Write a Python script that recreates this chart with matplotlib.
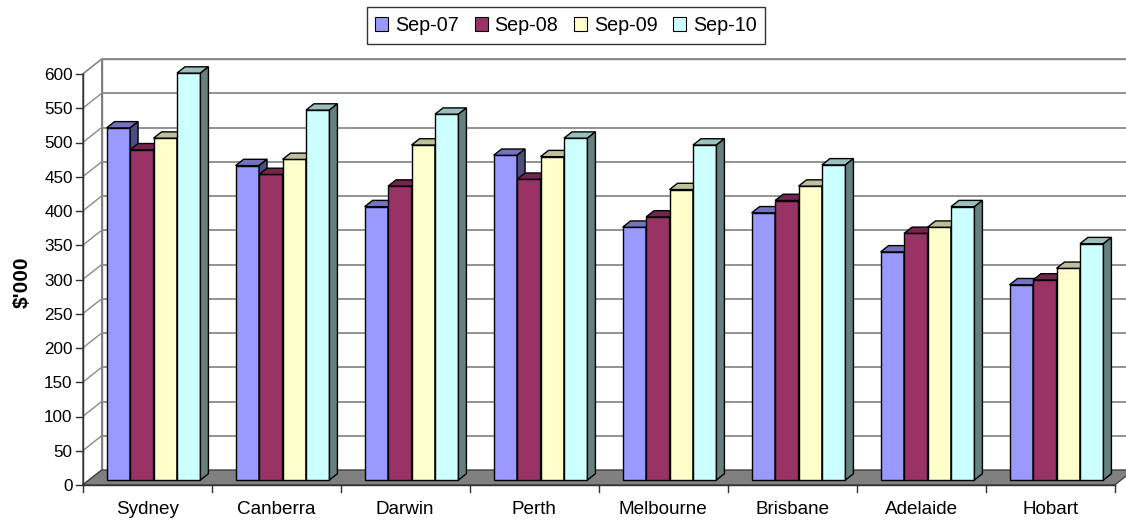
import matplotlib
matplotlib.use("Agg")
import matplotlib.pyplot as plt
from matplotlib.patches import Polygon, Patch
from matplotlib.colors import to_rgb

plt.rcParams["font.family"] = ["Liberation Sans", "DejaVu Sans"]

# ---- data -------------------------------------------------------------
cities = ["Sydney", "Canberra", "Darwin", "Perth", "Melbourne",
          "Brisbane", "Adelaide", "Hobart"]
series_names = ["Sep-07", "Sep-08", "Sep-09", "Sep-10"]
sep07 = [514, 459, 399, 474, 369, 390, 333, 285]
sep08 = [482, 446, 429, 439, 384, 408, 360, 292]
sep09 = [499, 468, 489, 472, 424, 429, 369, 309]
sep10 = [594, 540, 534, 499, 489, 460, 399, 345]
series_values = [sep07, sep08, sep09, sep10]
y_ticks = list(range(0, 601, 50))

# ---- style ------------------------------------------------------------
colors = ["#9999FF", "#993366", "#FFFFCC", "#CCFFFF"]
grid_color = "#8a8a8a"
wall_edge = "#808080"
floor_color = "#808080"


def shade(c, k):
    r, g, b = to_rgb(c)
    return (r * k, g * k, b * k)


fig = plt.figure(figsize=(11.26, 5.21), dpi=100)
W, H = 1126, 521
x_left_px, x_right_px = 82.7, 82.7 + 129 * 8
y0_px, y600_px = 485, 74
ax = fig.add_axes([x_left_px / W, (H - y0_px) / H,
                   (x_right_px - x_left_px) / W, (y0_px - y600_px) / H])
n_cat = len(cities)
ymax = y_ticks[-1]
ax.set_xlim(0, n_cat)
ax.set_ylim(0, ymax)
ax.axis("off")

px_x = (x_right_px - x_left_px) / n_cat      # pixels per category
px_y = (y0_px - y600_px) / ymax              # pixels per value unit
DX = 19 / px_x                               # depth offset of the back wall
DY = 15 / px_y

# left side wall and back wall
ax.add_patch(Polygon([(0, 0), (DX, DY), (DX, ymax + DY), (0, ymax)],
                     closed=True, facecolor="white", edgecolor=wall_edge,
                     lw=1.0, zorder=1, clip_on=False))
ax.add_patch(Polygon([(DX, DY), (n_cat + DX, DY), (n_cat + DX, ymax + DY),
                      (DX, ymax + DY)], closed=True, facecolor="white",
                     edgecolor=wall_edge, lw=1.0, zorder=1, clip_on=False))

# gridlines on back and side walls
for v in y_ticks[1:]:
    ax.plot([DX, n_cat + DX], [v + DY, v + DY], color=grid_color, lw=1.3,
            zorder=1.5, clip_on=False, solid_capstyle="butt")
    ax.plot([0, DX], [v, v + DY], color=grid_color, lw=1.0,
            zorder=1.5, clip_on=False)

# floor
ax.add_patch(Polygon([(0, 0), (n_cat, 0), (n_cat + DX, DY), (DX, DY)],
                     closed=True, facecolor=floor_color, edgecolor="#3a3a3a",
                     lw=0.9, zorder=2, clip_on=False))

# axes lines and ticks
tick_x = 7 / px_x
tick_y = 7 / px_y
ax.plot([0, 0], [0, ymax], color="#303030", lw=1.0, zorder=2.5, clip_on=False)
ax.plot([0, n_cat], [0, 0], color="#303030", lw=1.0, zorder=2.5, clip_on=False)
for v in y_ticks:
    ax.plot([-tick_x, 0], [v, v], color="#303030", lw=1.0, clip_on=False)
    ax.text(-10 / px_x, v, str(v), ha="right", va="center_baseline",
            fontsize=12.3, color="black")
for k in range(n_cat + 1):
    ax.plot([k, k], [0, -tick_y], color="#303030", lw=1.0, clip_on=False)
for k, name in enumerate(cities):
    ax.text(k + 0.5, -(514 - y0_px) / px_y, name, ha="center", va="baseline",
            fontsize=13.6, color="black")

# 3-D clustered bars
f = 1 / 3            # depth position of the bar front faces
d = 0.42             # bar depth as a fraction of the wall depth
w = 1 / 5.5          # bar width (gap width 150 %)
n_ser = len(series_values)
bx0 = f * DX
by0 = f * DY
ddx, ddy = d * DX, d * DY
for k in range(n_cat):
    left = k + 0.5 - n_ser * w / 2 + bx0
    for j, vals in enumerate(series_values):
        v = vals[k]
        x0 = left + j * w
        z = 3 + 0.01 * j
        c = colors[j]
        ax.bar(x0, v, width=w, bottom=by0, align="edge", color=c,
               edgecolor="black", linewidth=1.0, zorder=z, clip_on=False)
        top = by0 + v
        ax.add_patch(Polygon([(x0, top), (x0 + w, top),
                              (x0 + w + ddx, top + ddy), (x0 + ddx, top + ddy)],
                             closed=True, facecolor=shade(c, 0.75),
                             edgecolor="black", lw=1.0, zorder=z + 0.001,
                             clip_on=False))
        ax.add_patch(Polygon([(x0 + w, by0), (x0 + w + ddx, by0 + ddy),
                              (x0 + w + ddx, top + ddy), (x0 + w, top)],
                             closed=True, facecolor=shade(c, 0.5),
                             edgecolor="black", lw=1.0, zorder=z + 0.002,
                             clip_on=False))

# axis title
fig.text(22 / W, 1 - 282 / H, "$'000", rotation=90, ha="center", va="center",
         fontsize=15, fontweight="bold")

# legend
handles = [Patch(facecolor=c, edgecolor="black", linewidth=0.8, label=s)
           for c, s in zip(colors, series_names)]
leg = fig.legend(handles=handles, loc="upper center",
                 bbox_to_anchor=(566 / W, 1 - 7 / H), ncol=4, fontsize=14.2,
                 frameon=True, fancybox=False, handlelength=0.65,
                 handleheight=0.65, handletextpad=0.35, columnspacing=0.8,
                 borderpad=0.45, borderaxespad=0)
leg.get_frame().set_edgecolor("black")
leg.get_frame().set_linewidth(1.0)

fig.savefig("out.png", dpi=100)
